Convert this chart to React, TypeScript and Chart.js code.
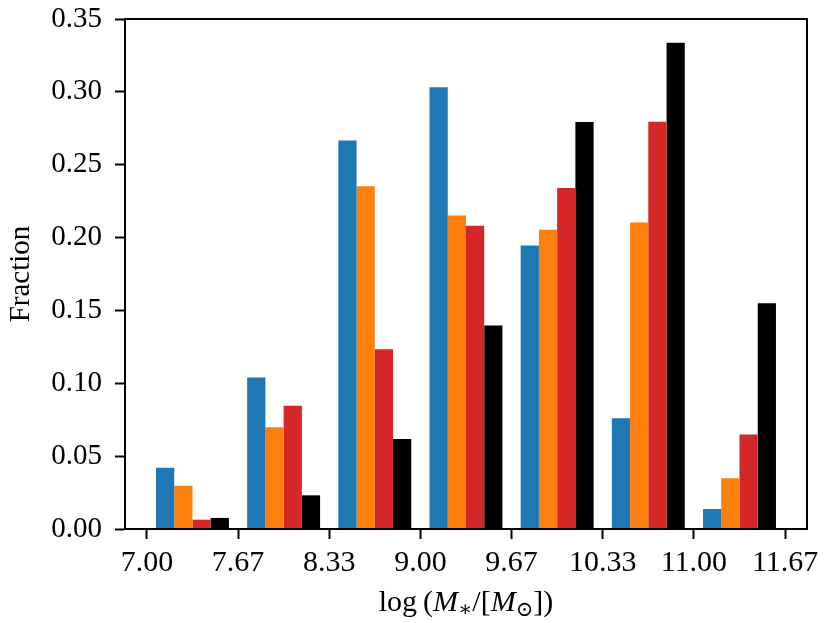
import { useEffect, useRef } from 'react';
import Chart from 'chart.js/auto';

// histogram bin edges (log stellar mass)
const binEdges = [7.0, 7.6667, 8.3333, 9.0, 9.6667, 10.3333, 11.0, 11.6667];

const seriesNames = ['s1', 's2', 's3', 's4'];
const seriesColors = ['#1f77b4', '#ff7f0e', '#d62728', '#000000'];

const blueVals = [0.042, 0.104, 0.2666, 0.3031, 0.1946, 0.076, 0.0137];
const orangeVals = [0.0297, 0.0698, 0.2353, 0.2152, 0.2053, 0.2103, 0.0348];
const redVals = [0.0064, 0.0845, 0.1234, 0.2081, 0.234, 0.2795, 0.0648];
const blackVals = [0.0076, 0.0231, 0.0618, 0.1396, 0.2793, 0.3337, 0.155];

const yTicks = [0, 0.05, 0.1, 0.15, 0.2, 0.25, 0.3, 0.35];

const FONT = '"Liberation Serif", "DejaVu Serif", "Times New Roman", serif';

// x-axis title pieces: log (M_* / [M_sun])
const xTitle = [
  { t: 'log', italic: false, sub: false },
  { t: '\u2009(', italic: false, sub: false },
  { t: 'M', italic: true, sub: false },
  { t: '\u2217', italic: false, sub: true },
  { t: '/[', italic: false, sub: false },
  { t: 'M', italic: true, sub: false },
  { t: '\u2299', italic: false, sub: true },
  { t: '])', italic: false, sub: false },
];

const frameAndTitle = {
  id: 'frameAndTitle',
  afterDraw(chart: Chart) {
    const { ctx, chartArea } = chart;
    ctx.save();
    ctx.strokeStyle = '#000';
    ctx.lineWidth = 2;
    ctx.strokeRect(chartArea.left, chartArea.top, chartArea.right - chartArea.left, chartArea.bottom - chartArea.top);

    const size = 30;
    const subSize = 21;
    const fontFor = (p: { italic: boolean; sub: boolean }) =>
      `${p.italic ? 'italic ' : ''}${p.sub ? subSize : size}px ${FONT}`;
    let total = 0;
    const widths = xTitle.map(p => {
      ctx.font = fontFor(p);
      const w = ctx.measureText(p.t).width;
      total += w;
      return w;
    });
    let x = (chartArea.left + chartArea.right) / 2 - total / 2;
    const baseY = 611;
    ctx.fillStyle = '#000';
    ctx.textBaseline = 'alphabetic';
    ctx.textAlign = 'left';
    xTitle.forEach((p, i) => {
      ctx.font = fontFor(p);
      ctx.fillText(p.t, x, p.sub ? baseY + 5 : baseY);
      x += widths[i];
    });
    ctx.restore();
  },
};

export default function App() {
  const canvasRef = useRef<HTMLCanvasElement>(null);
  const chartRef = useRef<Chart | null>(null);

  useEffect(() => {
    document.body.style.margin = '0';
    if (!canvasRef.current) return;
    if (chartRef.current) chartRef.current.destroy();

    const ctx = canvasRef.current.getContext('2d');
    if (!ctx) return;

    const centers = binEdges.slice(0, -1).map((e, i) => (e + binEdges[i + 1]) / 2);
    const allVals = [blueVals, orangeVals, redVals, blackVals];

    chartRef.current = new Chart(ctx, {
      type: 'bar',
      data: {
        datasets: allVals.map((vals, k) => ({
          label: seriesNames[k],
          data: vals.map((v, i) => ({ x: centers[i], y: v })),
          backgroundColor: seriesColors[k],
          borderWidth: 0,
          categoryPercentage: 0.8,
          barPercentage: 1.0,
        })),
      },
      options: {
        animation: false,
        responsive: true,
        maintainAspectRatio: false,
        layout: { padding: { left: 0, right: 24, top: 19, bottom: 0 } },
        plugins: {
          legend: { display: false },
          tooltip: { enabled: false },
        },
        scales: {
          x: {
            type: 'linear',
            offset: false,
            min: 6.84,
            max: 11.827,
            afterBuildTicks: (scale: any) => {
              scale.ticks = binEdges.map(v => ({ value: v }));
            },
            afterFit: (scale: any) => {
              scale.height = 94;
              scale.paddingLeft = 0;
              scale.paddingRight = 0;
            },
            grid: {
              display: true,
              drawOnChartArea: false,
              drawTicks: true,
              tickLength: 10,
              tickWidth: 2,
              tickColor: '#000',
              offset: false,
            },
            border: { display: true, color: '#000', width: 2 },
            ticks: {
              autoSkip: false,
              maxRotation: 0,
              padding: 6,
              color: '#000',
              font: { family: FONT, size: 30 },
              callback: (v: any) => Number(v).toFixed(2),
            },
          },
          y: {
            min: 0,
            max: 0.35,
            afterBuildTicks: (scale: any) => {
              scale.ticks = yTicks.map(v => ({ value: v }));
            },
            afterFit: (scale: any) => {
              scale.width = 125;
              scale.paddingTop = 0;
              scale.paddingBottom = 0;
            },
            grid: {
              display: true,
              drawOnChartArea: false,
              drawTicks: true,
              tickLength: 10,
              tickWidth: 2,
              tickColor: '#000',
            },
            border: { display: true, color: '#000', width: 2 },
            title: {
              display: true,
              text: 'Fraction',
              color: '#000',
              font: { family: FONT, size: 29 },
              padding: { top: 4, bottom: 0 },
            },
            ticks: {
              autoSkip: false,
              padding: 13,
              color: '#000',
              font: { family: FONT, size: 29 },
              callback: (v: any) => Number(v).toFixed(2),
            },
          },
        },
      },
      plugins: [frameAndTitle],
    });

    return () => {
      if (chartRef.current) {
        chartRef.current.destroy();
        chartRef.current = null;
      }
    };
  }, []);

  return (
    <div style={{ width: 831, height: 623, background: '#fff' }}>
      <canvas ref={canvasRef} />
    </div>
  );
}
